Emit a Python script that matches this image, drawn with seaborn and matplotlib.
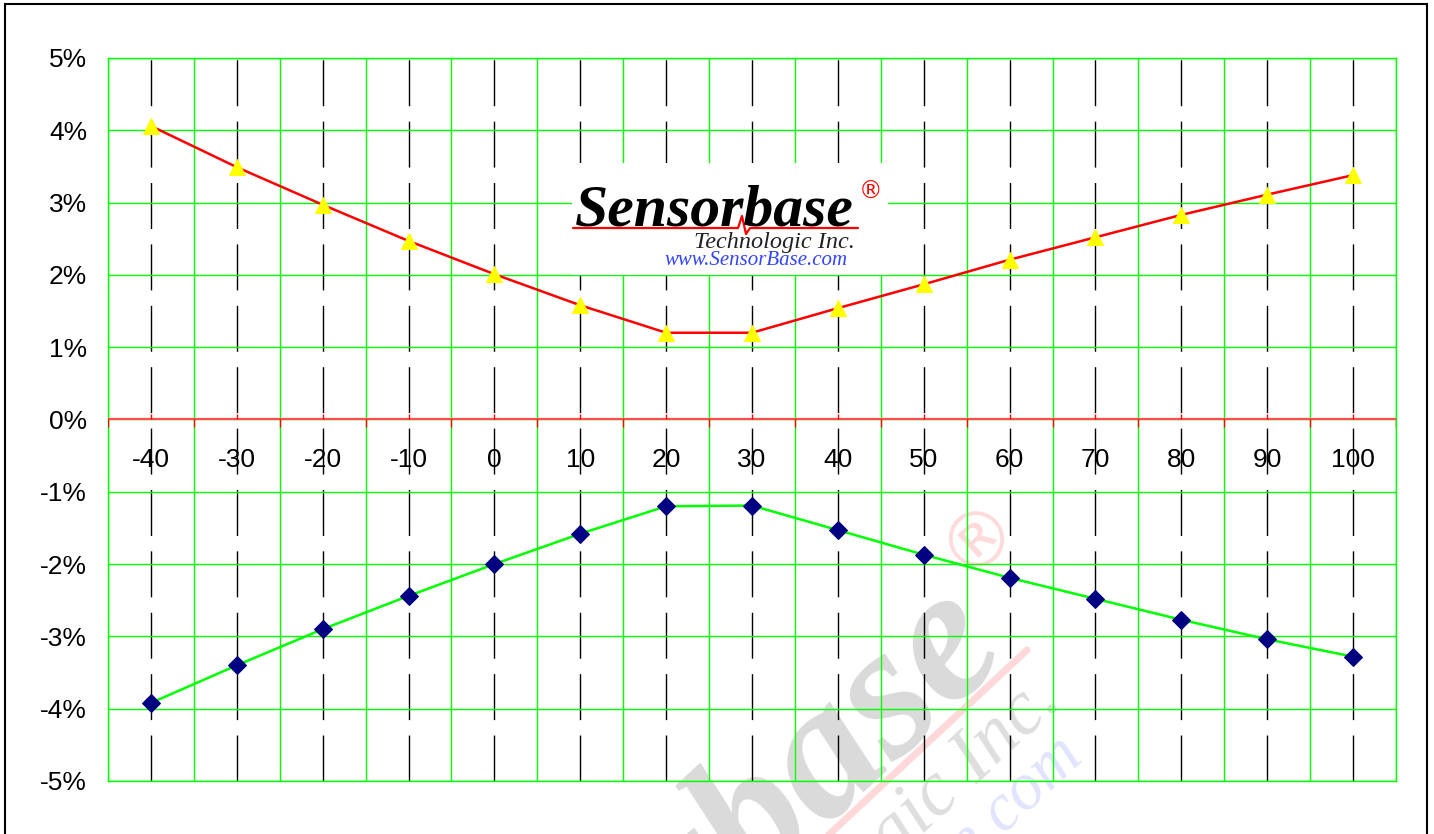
import numpy as np
import pandas as pd
import matplotlib
matplotlib.use("Agg")
import matplotlib.pyplot as plt
import seaborn as sns
from matplotlib.lines import Line2D
from matplotlib.patches import Rectangle

# Données (écart en % selon la température)
temps = [-40, -30, -20, -10, 0, 10, 20, 30, 40, 50, 60, 70, 80, 90, 100]
upper_pct = [4.06, 3.49, 2.97, 2.47, 2.01, 1.58, 1.20, 1.20, 1.54, 1.87, 2.21, 2.52, 2.83, 3.11, 3.38]
lower_pct = [-3.92, -3.40, -2.90, -2.44, -2.00, -1.58, -1.20, -1.19, -1.53, -1.87, -2.19, -2.48, -2.77, -3.04, -3.28]
y_ticks = [-5, -4, -3, -2, -1, 0, 1, 2, 3, 4, 5]

W, H = 1434, 834


def draw_logo(fig, anchor, scale, angle, alpha, zorder):
    """Logo Sensorbase, dessiné en pixels relatifs à la fin du trait rouge."""
    th = np.deg2rad(angle)
    c, s = np.cos(th), np.sin(th)

    def to_fig(dx, dy):
        dx, dy = dx * scale, dy * scale
        x = anchor[0] + dx * c + dy * s
        y = anchor[1] - dx * s + dy * c
        return x / W, 1 - y / H

    common = dict(rotation=angle, rotation_mode='anchor', alpha=alpha, zorder=zorder)
    fig.text(*to_fig(-283, -3), 'Sensorbase', fontsize=43 * scale, family='Liberation Serif',
             weight='bold', style='italic', color='black', ha='left', va='baseline', **common)
    pts = [(-285, 0), (-120, 0), (-116, -12), (-112, 6), (-108, 0), (0, 0)]
    xy = [to_fig(px, py) for px, py in pts]
    fig.add_artist(Line2D([p[0] for p in xy], [p[1] for p in xy], transform=fig.transFigure,
                          color='red', lw=1.6 * scale, alpha=alpha, zorder=zorder))
    fig.text(*to_fig(13, -36), '\u00ae', fontsize=17 * scale, family='DejaVu Sans',
             color='red', ha='center', va='center', **common)
    fig.text(*to_fig(-3, 20), 'Technologic Inc.', fontsize=17.5 * scale, family='Liberation Serif',
             style='italic', color='#222222', ha='right', va='baseline', **common)
    fig.text(*to_fig(-10, 37), 'www.SensorBase.com', fontsize=15 * scale, family='Liberation Serif',
             style='italic', color='#3344ff', ha='right', va='baseline', **common)


sns.set_theme(style="white")
plt.rcParams['font.family'] = ['Liberation Sans', 'DejaVu Sans']
plt.rcParams['lines.scale_dashes'] = False

fig = plt.figure(figsize=(W / 100, H / 100), dpi=100)
ax = fig.add_axes([108 / W, 1 - 781 / H, (1396 - 108) / W, (781 - 58) / H])
ax.set_facecolor('none')

df = pd.DataFrame({'pos': np.arange(len(temps)), 'temp': temps,
                   'upper': upper_pct, 'lower': lower_pct})

# Courbes
sns.lineplot(data=df, x='pos', y='upper', ax=ax, color='#ff0000', lw=1.8,
             marker='^', markersize=11, markerfacecolor='#ffff00',
             markeredgecolor='#ffff00', zorder=5)
sns.lineplot(data=df, x='pos', y='lower', ax=ax, color='#00ff00', lw=1.8,
             marker='D', markersize=9.5, markerfacecolor='#000080',
             markeredgecolor='#000080', zorder=5)

# Axes et grilles
ax.set_xlim(-0.5, len(temps) - 0.5)
ax.set_ylim(min(y_ticks), max(y_ticks))
ax.set_xticks(df['pos'], labels=[])
ax.set_xticks(np.arange(len(temps) + 1) - 0.5, minor=True)
ax.set_yticks(y_ticks, labels=[f"{v}%" for v in y_ticks])
ax.tick_params(axis='x', which='both', length=0)
ax.tick_params(axis='y', length=0, pad=15, labelsize=19, labelcolor='black')
ax.xaxis.grid(True, which='minor', color='#00ff00', lw=1)
ax.xaxis.grid(True, which='major', color='black', lw=1, linestyle=(0, (33.1, 11.1)))
ax.yaxis.grid(True, which='major', color='#00ff00', lw=1)
ax.set_axisbelow(True)
for sp in ax.spines.values():
    sp.set_color('#00ff00')
    sp.set_linewidth(1)
ax.set_xlabel('')
ax.set_ylabel('')

# Ligne du zéro et ses petites graduations rouges
ax.axhline(0, color='#ff4d4d', lw=1.6, zorder=3)
ax.vlines(np.arange(len(temps) + 1) - 0.5, 0, -0.11, color='red', lw=1, zorder=3)
ax.vlines(df['pos'], 0, 0.07, color='red', lw=1, zorder=3)

for p, t in zip(df['pos'], df['temp']):
    ax.text(p, -0.56, str(t), ha='center', va='center', fontsize=19, color='black', zorder=4)

# Logo en haut + filigrane
fig.add_artist(Rectangle((572 / W, 1 - 275 / H), (888 - 572) / W, (275 - 163) / H,
                         transform=fig.transFigure, facecolor='white', edgecolor='none', zorder=4))
draw_logo(fig, (858, 228), 1.0, 0, 1.0, 5)
draw_logo(fig, (1027, 650), 3.2, 43, 0.15, -1)

# Cadre
fig.add_artist(Rectangle((5 / W, -0.05), (1427 - 5) / W, 1 - 3.5 / H + 0.05,
                         transform=fig.transFigure, fill=False, edgecolor='black', lw=1.5, zorder=10))

fig.savefig('out.png', dpi=100)
